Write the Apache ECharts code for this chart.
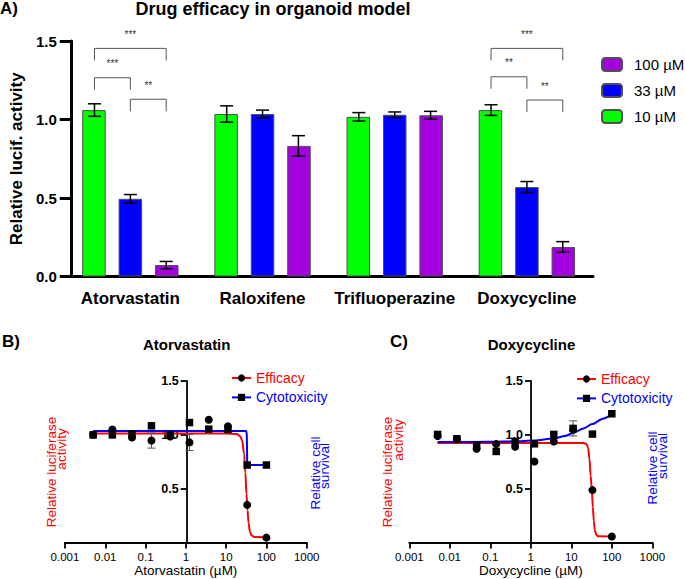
<!DOCTYPE html>
<html><head><meta charset="utf-8">
<script src="https://cdn.jsdelivr.net/npm/echarts@6/dist/echarts.min.js"></script>
<style>html,body{margin:0;padding:0;background:#fff}#c{width:685px;height:579px}</style>
</head><body><div id="c"></div>
<script>
// ---------- Panel A data ----------
const drugs = ['Atorvastatin', 'Raloxifene', 'Trifluoperazine', 'Doxycycline'];
const doseNames = ['10 µM', '33 µM', '100 µM'];
const legendOrderA = ['100 µM', '33 µM', '10 µM'];
const mean10 = [1.06, 1.035, 1.017, 1.06];
const err10 = [0.04, 0.052, 0.027, 0.034];
const mean33 = [0.495, 1.035, 1.03, 0.57];
const err33 = [0.027, 0.025, 0.018, 0.035];
const mean100 = [0.073, 0.832, 1.027, 0.188];
const err100 = [0.023, 0.065, 0.025, 0.034];
// significance brackets: drug index, from dose index, to dose index, bracket height, label
const sigDrug = [0, 0, 0, 3, 3, 3];
const sigFrom = [0, 0, 1, 0, 0, 1];
const sigTo = [2, 1, 2, 2, 1, 2];
const sigY = [1.453, 1.266, 1.129, 1.453, 1.272, 1.124];
const sigLabel = ['***', '***', '**', '***', '**', '**'];

// ---------- Panels B / C data ----------
const conc = [0.005, 0.015, 0.046, 0.14, 0.41, 1.23, 3.7, 11.1, 33.3, 100];
const atorEff = [1.0, 1.05, 0.975, 0.947, 0.985, 0.93, 1.14, 1.08, 0.35, 0.046];
const atorEffErr = [0, 0, 0, 0.07, 0, 0.075, 0, 0, 0, 0];
const atorCyto = [1.0, 1.0, 1.01, 1.084, 1.0, 1.114, 1.053, 1.05, 0.72, 0.72];
const doxEff = [0.99, 0.96, 0.87, 0.914, 0.89, 0.753, 0.939, 1.05, 0.487, 0.056];
const doxCyto = [1.004, 0.964, 0.905, 0.846, 0.94, 0.917, 1.004, 1.06, 1.007, 1.196];
const doxCytoErr = [0, 0, 0, 0, 0, 0, 0, 0.07, 0, 0];

// fitted curves
const atorEffFitX = [0.005, 10, 18, 22, 25, 28, 30, 32, 34, 36, 39, 43, 50, 100];
const atorEffFitY = [1.012, 1.012, 1.008, 0.99, 0.95, 0.82, 0.65, 0.45, 0.30, 0.18, 0.10, 0.065, 0.052, 0.05];
const atorCytoFitX = [0.005, 31.5, 32.6, 33.3, 34, 100];
const atorCytoFitY = [1.037, 1.037, 1.0, 0.76, 0.72, 0.72];
const doxEffFitX = [0.005, 20, 24, 26, 28, 30, 32, 34, 36, 38, 41, 46, 100];
const doxEffFitY = [0.924, 0.924, 0.915, 0.88, 0.78, 0.62, 0.5, 0.33, 0.2, 0.12, 0.075, 0.058, 0.056];
const doxCytoFitX = [0.005, 0.1, 0.4, 1.2, 3.7, 7, 11.1, 20, 33, 60, 100];
const doxCytoFitY = [0.933, 0.935, 0.94, 0.948, 0.967, 0.99, 1.017, 1.06, 1.10, 1.15, 1.19];

const logTickLabels = ['0.001', '0.01', '0.1', '1', '10', '100', '1000'];

// ---------- styling ----------
const FONT = 'Liberation Sans, Arial, Helvetica, sans-serif';
const GREEN = '#00FF00', BLUE = '#0000FF', PURPLE = '#A300E0';
const RED = '#FF0000';
const gridA = { left: 56, top: 41, width: 537, height: 235.5 };
const barW = 23.5, barGapFrac = 0.55;
const barOffset = barW * (1 + barGapFrac) / (gridA.width / drugs.length);

const zip = (a, b) => a.map((v, i) => [v, b[i]]);

function errRender(capHalf, color, lw) {
  return function (params, api) {
    const x = api.value(0), y = api.value(1), e = api.value(2);
    if (!(e > 0)) return null;
    const t = api.coord([x, y + e]), b = api.coord([x, y - e]);
    const style = { stroke: color, lineWidth: lw, fill: 'none' };
    return { type: 'group', children: [
      { type: 'line', shape: { x1: t[0], y1: t[1], x2: b[0], y2: b[1] }, style },
      { type: 'line', shape: { x1: t[0] - capHalf, y1: t[1], x2: t[0] + capHalf, y2: t[1] }, style },
      { type: 'line', shape: { x1: b[0] - capHalf, y1: b[1], x2: b[0] + capHalf, y2: b[1] }, style }
    ] };
  };
}

const errDataA = [];
[[mean10, err10], [mean33, err33], [mean100, err100]].forEach((pair, k) => {
  pair[0].forEach((m, i) => errDataA.push([i + (k - 1) * barOffset, m, pair[1][i]]));
});
const sigData = sigDrug.map((d, i) => [d + (sigFrom[i] - 1) * barOffset, d + (sigTo[i] - 1) * barOffset, sigY[i]]);

const barStyle = c => ({ color: c, borderColor: '#505050', borderWidth: 1 });

function logAxis(grid, name) {
  return {
    type: 'log', gridIndex: grid, min: 0.001, max: 1000, logBase: 10,
    name: name, nameLocation: 'middle', nameGap: 21,
    nameTextStyle: { fontSize: 13.5, color: '#000', fontFamily: FONT },
    axisLine: { onZero: false, lineStyle: { color: '#000', width: 1.8 } },
    axisTick: { length: 6, lineStyle: { color: '#000', width: 1.8 } },
    minorTick: { show: false }, splitLine: { show: false },
    axisLabel: { fontSize: 11.5, color: '#000', margin: 8, fontFamily: FONT,
      formatter: v => logTickLabels[Math.round(Math.log10(v)) + 3] }
  };
}
function curveYAxis(grid, offset) {
  return {
    type: 'value', gridIndex: grid, min: 0, max: 1.5, interval: 0.5, position: 'left', offset: offset,
    axisLine: { show: true, onZero: false, lineStyle: { color: '#000', width: 1.8 } },
    axisTick: { show: true, length: 6, lineStyle: { color: '#000', width: 1.8 } },
    splitLine: { show: false },
    axisLabel: { fontSize: 12.5, fontWeight: 'bold', color: '#000', margin: 8, fontFamily: FONT,
      formatter: v => (v === 0 ? '' : v.toFixed(1)) }
  };
}
function curveLine(name, xi, yi, xs, ys, color, symbol, smooth) {
  return { type: 'line', name: name, xAxisIndex: xi, yAxisIndex: yi, data: zip(xs, ys),
    showSymbol: false, symbol: symbol, symbolSize: 8, smooth: smooth, smoothMonotone: 'x',
    itemStyle: { color: '#000' }, lineStyle: { color: color, width: 2 }, z: 3 };
}
function pts(xi, yi, ys, symbol) {
  return { type: 'scatter', xAxisIndex: xi, yAxisIndex: yi, data: zip(conc, ys), symbol: symbol,
    symbolSize: symbol === 'rect' ? 7.5 : 8, itemStyle: { color: '#000', opacity: 1 }, z: 5 };
}
function errCurve(xi, yi, ys, es) {
  return { type: 'custom', xAxisIndex: xi, yAxisIndex: yi, z: 4,
    data: conc.map((c, i) => [c, ys[i], es[i]]), renderItem: errRender(4, '#555', 1) };
}
function sideLabel(text, x, y, color) {
  return { type: 'text', x: x, y: y, rotation: Math.PI / 2,
    style: { text: text, fill: color, fontSize: 13.5, fontFamily: FONT,
      align: 'center', verticalAlign: 'middle', textAlign: 'center', textVerticalAlign: 'middle' } };
}

const option = {
  animation: false,
  backgroundColor: '#fff',
  textStyle: { fontFamily: FONT },
  title: [
    { text: 'A)', left: 0, top: 0, padding: 0, textStyle: { fontSize: 17, fontWeight: 'bold', color: '#000', fontFamily: FONT } },
    { text: 'Drug efficacy in organoid model', left: 273, top: 0, padding: 0, textAlign: 'center',
      textStyle: { fontSize: 18, fontWeight: 'bold', color: '#000', fontFamily: FONT } },
    { text: 'B)', left: 2, top: 333, padding: 0, textStyle: { fontSize: 17, fontWeight: 'bold', color: '#000', fontFamily: FONT } },
    { text: 'Atorvastatin', left: 186.7, top: 337, padding: 0, textAlign: 'center',
      textStyle: { fontSize: 15, fontWeight: 'bold', color: '#000', fontFamily: FONT } },
    { text: 'C)', left: 390, top: 333, padding: 0, textStyle: { fontSize: 17, fontWeight: 'bold', color: '#000', fontFamily: FONT } },
    { text: 'Doxycycline', left: 531.5, top: 337, padding: 0, textAlign: 'center',
      textStyle: { fontSize: 15, fontWeight: 'bold', color: '#000', fontFamily: FONT } }
  ],
  legend: [
    { data: legendOrderA, orient: 'vertical', left: 601, top: 57, itemWidth: 20, itemHeight: 13, itemGap: 11,
      padding: 0, textStyle: { fontSize: 15, color: '#000', lineHeight: 15, padding: [0, 0, 0, 7], fontFamily: FONT } },
    { data: [{ name: 'Efficacy', textStyle: { color: RED } }, { name: 'Cytotoxicity', textStyle: { color: BLUE } }],
      orient: 'vertical', left: 231, top: 371, itemWidth: 19, itemHeight: 9, itemGap: 5.4, padding: 0,
      textStyle: { fontSize: 14, lineHeight: 14, fontFamily: FONT } },
    { data: [{ name: 'Efficacy', textStyle: { color: RED } }, { name: 'Cytotoxicity', textStyle: { color: BLUE } }],
      orient: 'vertical', left: 576, top: 372, itemWidth: 19, itemHeight: 9, itemGap: 5.4, padding: 0,
      textStyle: { fontSize: 14, lineHeight: 14, fontFamily: FONT } }
  ],
  grid: [
    gridA,
    { left: 65, top: 381, width: 241.7, height: 161.6 },
    { left: 409.3, top: 381, width: 243, height: 161.6 }
  ],
  xAxis: [
    { type: 'category', gridIndex: 0, data: drugs,
      axisLine: { onZero: false, lineStyle: { color: '#000', width: 3 } },
      axisTick: { alignWithLabel: true, length: 10, lineStyle: { color: '#000', width: 3 } },
      axisLabel: { interval: 0, fontSize: 17, fontWeight: 'bold', color: '#000', margin: 13, fontFamily: FONT } },
    { type: 'value', gridIndex: 0, min: -0.5, max: 3.5, show: false },
    logAxis(1, 'Atorvastatin (µM)'),
    logAxis(2, 'Doxycycline (µM)')
  ],
  yAxis: [
    { type: 'value', gridIndex: 0, min: 0, max: 1.5, interval: 0.5, offset: -6.5,
      name: 'Relative lucif. activity', nameLocation: 'middle', nameRotate: 90, nameGap: 44,
      nameTextStyle: { fontSize: 17, fontWeight: 'bold', color: '#000', fontFamily: FONT },
      axisLine: { show: true, onZero: false, lineStyle: { color: '#000', width: 3 } },
      axisTick: { show: true, length: 11, lineStyle: { color: '#000', width: 3 } },
      splitLine: { show: false },
      axisLabel: { fontSize: 15, fontWeight: 'bold', color: '#000', margin: 14, fontFamily: FONT,
        formatter: v => v.toFixed(1) } },
    curveYAxis(1, -121.7),
    curveYAxis(2, -121.7)
  ],
  graphic: [
    sideLabel('Relative luciferase', 51, 472, RED),
    sideLabel('activity', 61.5, 449, RED),
    sideLabel('Relative cell', 315, 473, BLUE),
    sideLabel('survival', 324, 466, BLUE),
    sideLabel('Relative luciferase', 387.5, 472, RED),
    sideLabel('activity', 398, 440, RED),
    sideLabel('Relative cell', 652.5, 468, BLUE),
    sideLabel('survival', 662.5, 456, BLUE)
  ],
  series: [
    { type: 'bar', name: doseNames[0], xAxisIndex: 0, yAxisIndex: 0, data: mean10, barWidth: barW, barGap: (barGapFrac * 100) + '%', itemStyle: barStyle(GREEN) },
    { type: 'bar', name: doseNames[1], xAxisIndex: 0, yAxisIndex: 0, data: mean33, barWidth: barW, barGap: (barGapFrac * 100) + '%', itemStyle: barStyle(BLUE) },
    { type: 'bar', name: doseNames[2], xAxisIndex: 0, yAxisIndex: 0, data: mean100, barWidth: barW, barGap: (barGapFrac * 100) + '%', itemStyle: barStyle(PURPLE) },
    { type: 'custom', xAxisIndex: 1, yAxisIndex: 0, z: 5, data: errDataA, renderItem: errRender(6.5, '#000', 1.5) },
    { type: 'custom', xAxisIndex: 1, yAxisIndex: 0, z: 5, data: sigData,
      renderItem: function (params, api) {
        const i = params.dataIndex;
        const p1 = api.coord([api.value(0), api.value(2)]), p2 = api.coord([api.value(1), api.value(2)]);
        const leg = 12;
        return { type: 'group', children: [
          { type: 'polyline', shape: { points: [[p1[0], p1[1] + leg], [p1[0], p1[1]], [p2[0], p2[1]], [p2[0], p2[1] + leg]] },
            style: { stroke: '#555', lineWidth: 1, fill: 'none' } },
          { type: 'text', x: (p1[0] + p2[0]) / 2, y: p1[1] - 14,
            style: { text: sigLabel[i], fontSize: 10, fill: '#333', fontFamily: FONT,
              align: 'center', verticalAlign: 'middle', textAlign: 'center', textVerticalAlign: 'middle' } }
        ] };
      } },
    // Panel B
    curveLine('Efficacy', 2, 1, atorEffFitX, atorEffFitY, RED, 'circle', 0.3),
    curveLine('Cytotoxicity', 2, 1, atorCytoFitX, atorCytoFitY, BLUE, 'rect', false),
    errCurve(2, 1, atorEff, atorEffErr),
    pts(2, 1, atorCyto, 'rect'),
    pts(2, 1, atorEff, 'circle'),
    // Panel C
    curveLine('Efficacy', 3, 2, doxEffFitX, doxEffFitY, RED, 'circle', 0.3),
    curveLine('Cytotoxicity', 3, 2, doxCytoFitX, doxCytoFitY, BLUE, 'rect', 0.3),
    errCurve(3, 2, doxCyto, doxCytoErr),
    pts(3, 2, doxCyto, 'rect'),
    pts(3, 2, doxEff, 'circle')
  ]
};

const chart = echarts.init(document.getElementById('c'), null, { renderer: 'svg' });
chart.setOption(option);
</script>
</body></html>
